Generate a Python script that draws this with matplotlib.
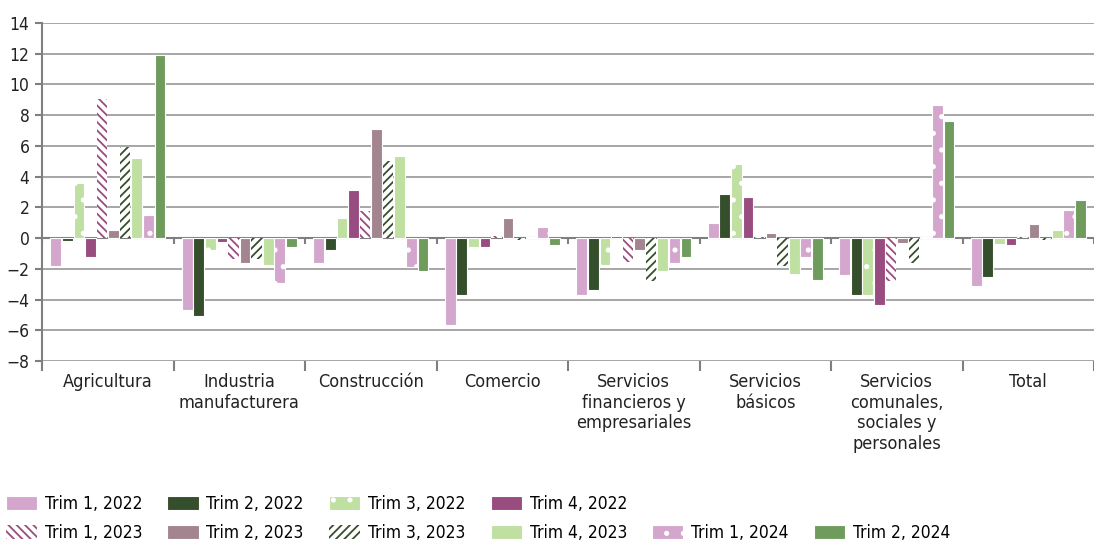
import numpy as np
import matplotlib.pyplot as plt
from matplotlib.patches import Patch

categorias = ["Agricultura", "Industria\nmanufacturera", "Construcción", "Comercio",
              "Servicios\nfinancieros y\nempresariales", "Servicios\nbásicos",
              "Servicios\ncomunales,\nsociales y\npersonales", "Total"]

trim1_2022 = [-1.8, -4.7, -1.6, -5.65, -3.7, 0.95, -2.4, -3.1]
trim2_2022 = [-0.2, -5.1, -0.8, -3.7, -3.35, 2.85, -3.7, -2.55]
trim3_2022 = [3.6, -0.75, 1.3, -0.6, -1.75, 4.8, -3.7, -0.4]
trim4_2022 = [-1.2, -0.25, 3.1, -0.6, 0.15, 2.65, -4.35, -0.45]
trim1_2023 = [9.05, -1.35, 1.75, 0.15, -1.55, 0.1, -2.8, 0.05]
trim2_2023 = [0.5, -1.6, 7.1, 1.3, -0.8, 0.35, -0.3, 0.9]
trim3_2023 = [5.95, -1.35, 5.0, -0.15, -2.8, -1.8, -1.65, -0.1]
trim4_2023 = [5.2, -1.75, 5.35, 0.1, -2.15, -2.35, 0.1, 0.5]
trim1_2024 = [1.5, -2.9, -1.9, 0.7, -1.6, -1.2, 8.65, 1.85]
trim2_2024 = [11.9, -0.6, -2.15, -0.45, -1.2, -2.75, 7.65, 2.45]

series = {
    "Trim 1, 2022": trim1_2022,
    "Trim 2, 2022": trim2_2022,
    "Trim 3, 2022": trim3_2022,
    "Trim 4, 2022": trim4_2022,
    "Trim 1, 2023": trim1_2023,
    "Trim 2, 2023": trim2_2023,
    "Trim 3, 2023": trim3_2023,
    "Trim 4, 2023": trim4_2023,
    "Trim 1, 2024": trim1_2024,
    "Trim 2, 2024": trim2_2024,
}

rosa = "#d5a6cd"
verde_osc = "#354e2b"
verde_cl = "#bfe0a1"
morado = "#984c80"
malva = "#a2858f"
verde = "#6f9b5d"

# (relleno, borde, trama)
estilos = {
    "Trim 1, 2022": (rosa, "white", None),
    "Trim 2, 2022": (verde_osc, "white", None),
    "Trim 3, 2022": (verde_cl, "white", "."),
    "Trim 4, 2022": (morado, "white", None),
    "Trim 1, 2023": ("white", morado, "\\\\\\\\"),
    "Trim 2, 2023": (malva, "white", None),
    "Trim 3, 2023": ("white", verde_osc, "////"),
    "Trim 4, 2023": (verde_cl, "white", None),
    "Trim 1, 2024": (rosa, "white", "."),
    "Trim 2, 2024": (verde, "white", None),
}

plt.rcParams["font.family"] = ["DejaVu Sans"]
plt.rcParams["font.stretch"] = "condensed"
plt.rcParams["hatch.linewidth"] = 1.3

fig = plt.figure(figsize=(10.94, 5.44), dpi=100)
ax = fig.add_axes([0.0384, 0.3364, 0.9616, 0.6213])

x = np.arange(len(categorias))
paso = 0.088
handles = {}
for i, (nombre, valores) in enumerate(series.items()):
    face, edge, hatch = estilos[nombre]
    lw = 0 if face == "white" else 0.8
    bars = ax.bar(x + (i - 4.5) * paso, valores, width=paso * 0.92,
                  color=face, edgecolor=edge, hatch=hatch, linewidth=lw,
                  zorder=3, label=nombre)
    handles[nombre] = bars

ax.set_xlim(-0.5, len(categorias) - 0.5)
ax.set_ylim(-8, 14)
ax.set_yticks(np.arange(-8, 15, 2))
ax.yaxis.grid(True, color="#a6a6a6", linewidth=1.4, zorder=0)
ax.set_axisbelow(True)
ax.axhline(0, color="#7f7f7f", linewidth=1.5, zorder=2)
ax.vlines(np.arange(len(categorias) + 1) - 0.5, -0.4, 0, color="#7f7f7f",
          linewidth=1.5, zorder=2)

for s in ["top", "right", "bottom"]:
    ax.spines[s].set_visible(False)
ax.spines["left"].set_color("#7f7f7f")
ax.spines["left"].set_linewidth(1.5)

ax.set_xticks(x)
ax.set_xticklabels(categorias, fontsize=13, color="#222222", linespacing=1.17)
ax.tick_params(axis="x", which="major", length=0, pad=9)
ax.set_xticks(np.arange(len(categorias) + 1) - 0.5, minor=True)
ax.tick_params(axis="x", which="minor", length=7, width=1.5, color="#7f7f7f")
ax.tick_params(axis="y", length=5, width=1.5, color="#7f7f7f", labelsize=12.5,
               labelcolor="#222222", pad=4)

vacio = Patch(facecolor="none", edgecolor="none", label="")
orden = ["Trim 1, 2022", "Trim 1, 2023", "Trim 2, 2022", "Trim 2, 2023",
         "Trim 3, 2022", "Trim 3, 2023", "Trim 4, 2022", "Trim 4, 2023",
         None, "Trim 1, 2024", None, "Trim 2, 2024"]
hs = [handles[n] if n else vacio for n in orden]
ls = [n if n else "" for n in orden]
fig.legend(hs, ls, ncol=6, loc="lower left", bbox_to_anchor=(-0.006, -0.018),
           frameon=False, fontsize=12.5, handlelength=1.8, handleheight=0.85,
           handletextpad=0.45, columnspacing=1.45, labelspacing=0.62,
           borderaxespad=0.3)

fig.savefig("out.png", dpi=100)
